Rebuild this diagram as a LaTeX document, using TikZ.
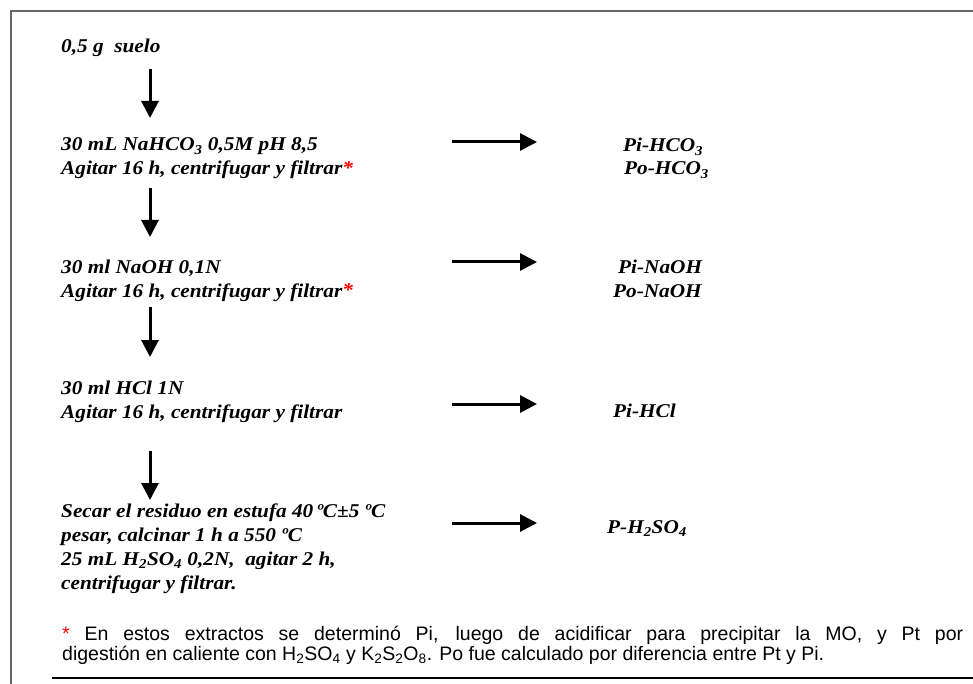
\documentclass[tikz,border=0pt]{standalone}
\usepackage{fontspec}
\setmainfont{Liberation Serif}[FakeStretch=1.09]
\newfontfamily\notefont{Liberation Sans}
\usetikzlibrary{arrows.meta}
\newcommand{\sbs}[1]{\textsubscript{#1}}
\newcommand{\rast}{{\color{red}\raisebox{0.1ex}{*}}}
\begin{document}
\begin{tikzpicture}[x=1pt,y=-1pt,
  lbl/.style={anchor=base west,inner sep=0pt,font=\fontsize{19.5}{24}\selectfont\bfseries\itshape},
  flow/.style={line width=3pt,-{Triangle[length=17pt,width=17pt]}},
  side/.style={line width=3pt,-{Triangle[length=17pt,width=17pt]}},
  frameline/.style={draw=black!60,line width=1.5pt},
  rule/.style={draw=black,line width=2pt}]
\useasboundingbox (0,0) rectangle (973,684);
\fill[white] (0,0) rectangle (973,684);
\coordinate (tl) at (11,11);
\coordinate (tr) at (973,11);
\coordinate (bl) at (11,684);
\draw[frameline] (tr) -- (tl) -- (bl);
\coordinate (rl) at (52,678);
\coordinate (rr) at (973,678);
\draw[rule] (rl) -- (rr);

% left column
\node[lbl] (s0) at (61,53) {0,5 g\ \ suelo};
\node[lbl] (s1a) at (61,151) {30 mL NaHCO\sbs{3} 0,5M pH 8,5};
\node[lbl] (s1b) at (61,175) {Agitar 16 h, centrifugar y filtrar\rast};
\node[lbl] (s2a) at (61,273) {30 ml NaOH 0,1N};
\node[lbl] (s2b) at (61,297) {Agitar 16 h, centrifugar y filtrar\rast};
\node[lbl] (s3a) at (61,394) {30 ml HCl 1N};
\node[lbl] (s3b) at (61,418) {Agitar 16 h, centrifugar y filtrar};
\node[lbl] (s4a) at (61,517) {Secar el residuo en estufa 40\,ºC±5 ºC};
\node[lbl] (s4b) at (61,541) {pesar, calcinar 1 h a 550 ºC};
\node[lbl] (s4c) at (61,565) {25 mL H\sbs{2}SO\sbs{4} 0,2N,\ \ agitar 2 h,};
\node[lbl] (s4d) at (61,589) {centrifugar y filtrar.};

% right column
\node[lbl] (r1a) at (623,152) {Pi-HCO\sbs{3}};
\node[lbl] (r1b) at (624,175) {Po-HCO\sbs{3}};
\node[lbl] (r2a) at (618,273) {Pi-NaOH};
\node[lbl] (r2b) at (613,297) {Po-NaOH};
\node[lbl] (r3) at (613,417) {Pi-HCl};
\node[lbl] (r4) at (607,533) {P-H\sbs{2}SO\sbs{4}};

% down arrows
\coordinate (d1s) at (150,69);  \coordinate (d1e) at (150,118);
\coordinate (d2s) at (150,188); \coordinate (d2e) at (150,237);
\coordinate (d3s) at (150,307); \coordinate (d3e) at (150,357);
\coordinate (d4s) at (150,451); \coordinate (d4e) at (150,500);
\draw[flow] (d1s) -- (d1e);
\draw[flow] (d2s) -- (d2e);
\draw[flow] (d3s) -- (d3e);
\draw[flow] (d4s) -- (d4e);

% side arrows
\coordinate (h1s) at (452,142); \coordinate (h1e) at (537,142);
\coordinate (h2s) at (452,262); \coordinate (h2e) at (537,262);
\coordinate (h3s) at (452,404); \coordinate (h3e) at (537,404);
\coordinate (h4s) at (452,523); \coordinate (h4e) at (537,523);
\draw[side] (h1s) -- (h1e);
\draw[side] (h2s) -- (h2e);
\draw[side] (h3s) -- (h3e);
\draw[side] (h4s) -- (h4e);

% note
\node[anchor=base west,inner sep=0pt,text width=901pt,align=justify,
  font=\notefont\fontsize{19.5}{20.5}\selectfont] (note) at (62,640)
  {{\color{red}*} En estos extractos se determinó Pi, luego de acidificar para precipitar la MO, y Pt por\linebreak digestión en caliente con H\sbs{2}SO\sbs{4} y K\sbs{2}S\sbs{2}O\sbs{8}. Po fue calculado por diferencia entre Pt y Pi.};
\end{tikzpicture}
\end{document}
